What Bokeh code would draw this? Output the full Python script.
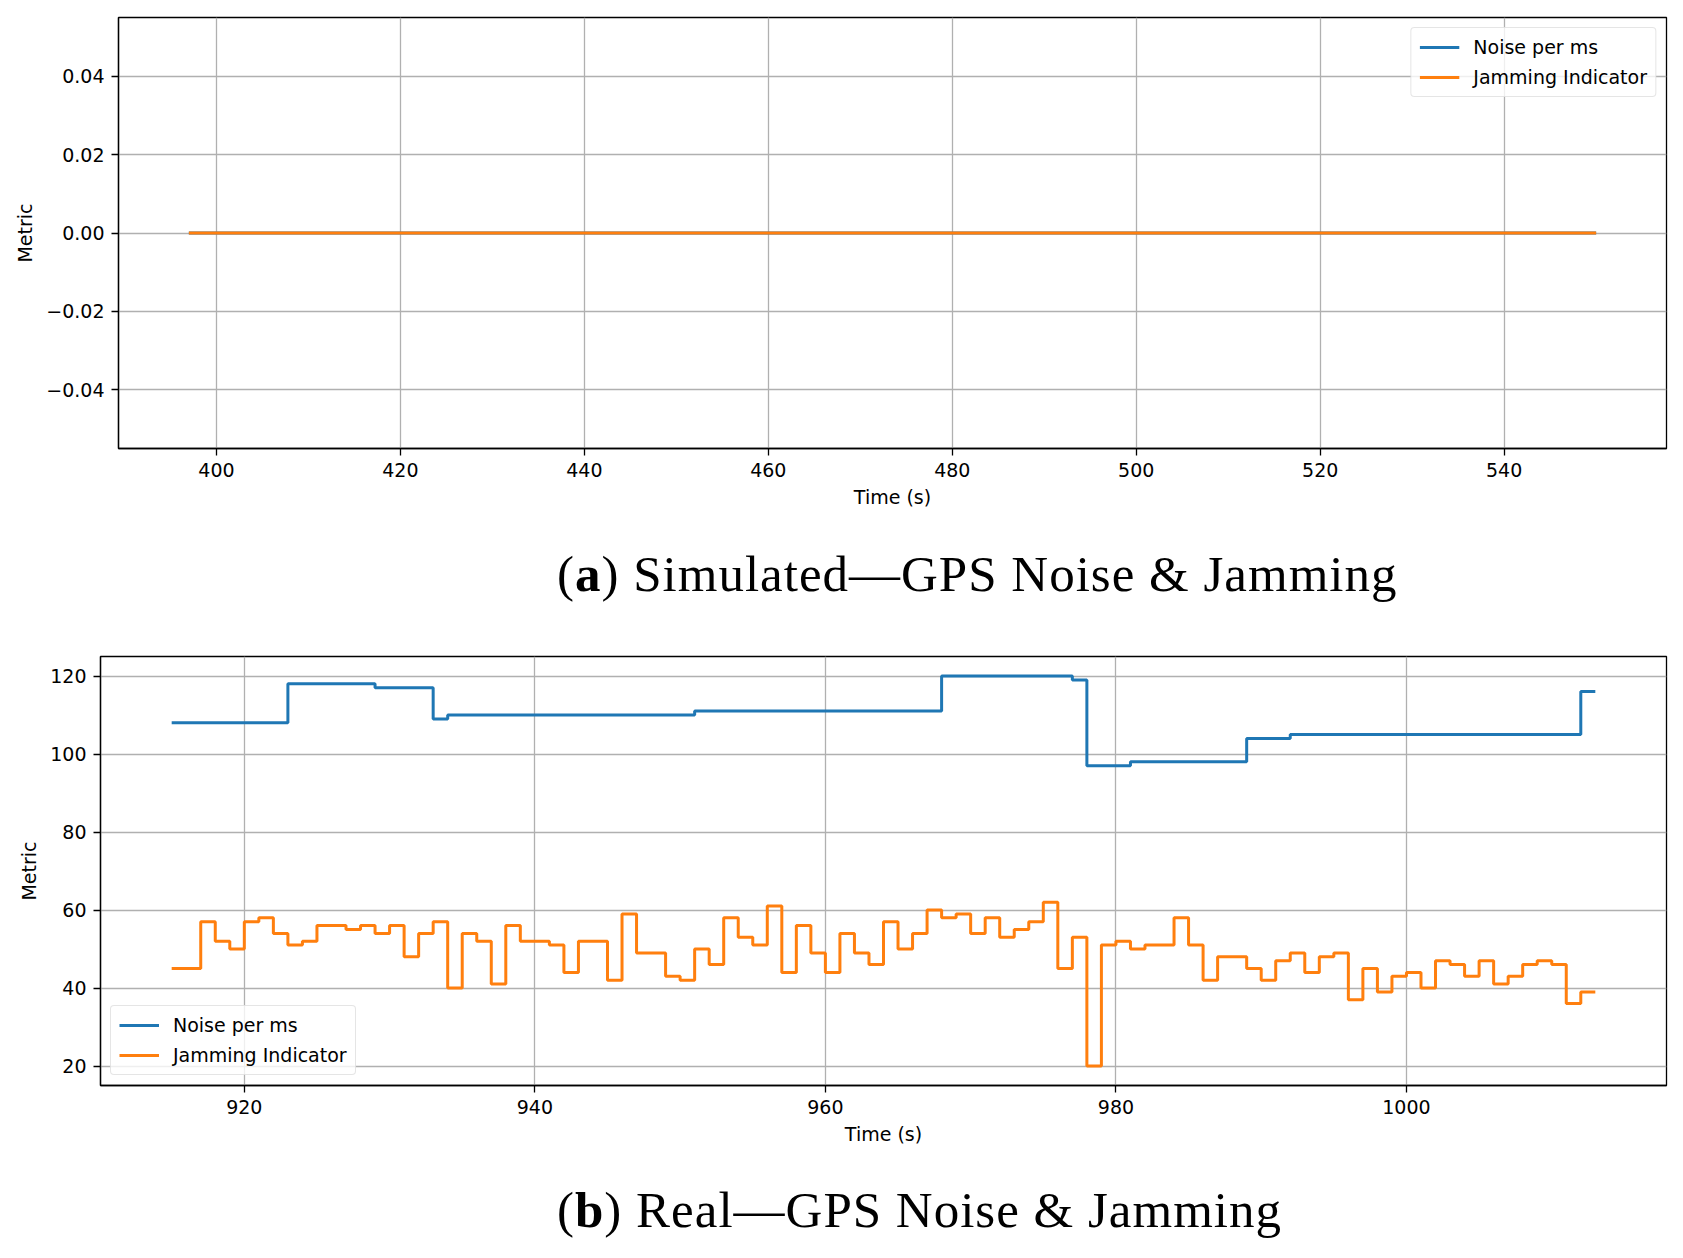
from bokeh.plotting import figure
from bokeh.models import Range1d, FixedTicker, CustomJSTickFormatter, Div
from bokeh.embed import file_html
from bokeh.resources import INLINE

# (a) simulated run: both metrics stay at zero the whole time
sim_t = [397, 550]
sim_noise = [0, 0]
sim_jam = [0, 0]

# (b) real run, jamming indicator read once per second (915 .. 1013)
real_t = [915, 916, 917, 918, 919, 920, 921, 922, 923, 924,
          925, 926, 927, 928, 929, 930, 931, 932, 933, 934,
          935, 936, 937, 938, 939, 940, 941, 942, 943, 944,
          945, 946, 947, 948, 949, 950, 951, 952, 953, 954,
          955, 956, 957, 958, 959, 960, 961, 962, 963, 964,
          965, 966, 967, 968, 969, 970, 971, 972, 973, 974,
          975, 976, 977, 978, 979, 980, 981, 982, 983, 984,
          985, 986, 987, 988, 989, 990, 991, 992, 993, 994,
          995, 996, 997, 998, 999, 1000, 1001, 1002, 1003, 1004,
          1005, 1006, 1007, 1008, 1009, 1010, 1011, 1012, 1013]
real_jam = [45, 45, 57, 52, 50, 57, 58, 54, 51, 52,
            56, 56, 55, 56, 54, 56, 48, 54, 57, 40,
            54, 52, 41, 56, 52, 52, 51, 44, 52, 52,
            42, 59, 49, 49, 43, 42, 50, 46, 58, 53,
            51, 61, 44, 56, 49, 44, 54, 49, 46, 57,
            50, 54, 60, 58, 59, 54, 58, 53, 55, 57,
            62, 45, 53, 20, 51, 52, 50, 51, 51, 58,
            51, 42, 48, 48, 45, 42, 47, 49, 44, 48,
            49, 37, 45, 39, 43, 44, 40, 47, 46, 43,
            47, 41, 43, 46, 47, 46, 36, 39, 39]

# noise per ms only changes a few times -> keep the change points
noise_t = [915, 923, 929, 933, 934, 951, 968, 977, 978, 981, 989, 992, 1012, 1013]
noise_v = [108, 118, 117, 109, 110, 111, 120, 119, 97, 98, 104, 105, 116, 116]

x_ticks_a = [400, 420, 440, 460, 480, 500, 520, 540]
y_ticks_a = [-0.04, -0.02, 0.0, 0.02, 0.04]
x_ticks_b = [920, 940, 960, 980, 1000]
y_ticks_b = [20, 40, 60, 80, 100, 120]

azul = "#1f77b4"
naranja = "#ff7f0e"

cap_a = ("a", "Simulated\u2014GPS Noise &amp; Jamming")
cap_b = ("b", "Real\u2014GPS Noise &amp; Jamming")


def estilo(p):
    p.background_fill_color = "white"
    p.border_fill_color = "white"
    p.outline_line_color = "black"
    p.outline_line_width = 1.3
    p.grid.grid_line_color = "#b0b0b0"
    p.grid.grid_line_width = 1.3
    for ax in p.axis:
        ax.axis_line_color = "black"
        ax.axis_line_width = 1.3
        ax.major_tick_line_color = "black"
        ax.major_tick_line_width = 1.3
        ax.major_tick_out = 7
        ax.major_tick_in = 0
        ax.minor_tick_line_color = None
        ax.major_label_text_font = "DejaVu Sans"
        ax.major_label_text_font_size = "19px"
        ax.major_label_text_color = "black"
        ax.major_label_standoff = 7
        ax.axis_label_text_font = "DejaVu Sans"
        ax.axis_label_text_font_size = "19px"
        ax.axis_label_text_font_style = "normal"
        ax.axis_label_text_color = "black"
    p.xaxis.axis_label_standoff = 6
    p.yaxis.axis_label_standoff = 7
    leg = p.legend[0]
    leg.label_text_font = "DejaVu Sans"
    leg.label_text_font_size = "19px"
    leg.label_text_color = "black"
    leg.border_line_color = "#cccccc"
    leg.border_line_width = 1.3
    leg.background_fill_alpha = 0.8
    leg.glyph_width = 40
    leg.glyph_height = 20
    leg.label_height = 20
    leg.label_standoff = 14
    leg.spacing = 8
    leg.padding = 8
    leg.margin = 10
    if "border_radius" in type(leg).properties():
        leg.border_radius = 4


def caption(letra, texto, top, height):
    html = ('<div style="font-family:\'Liberation Serif\',serif; font-size:51px; '
            'line-height:51px; letter-spacing:1px; color:black; white-space:nowrap; '
            f'padding-top:{top}px; padding-left:557px;">(<b>{letra}</b>) {texto}</div>')
    return Div(text=html, width=1676, height=height, margin=0)


# ---- (a) simulated
p1 = figure(frame_width=1548, frame_height=431, min_border_left=118, min_border_right=10,
            min_border_top=17, min_border_bottom=72,
            x_range=Range1d(389.35, 557.65), y_range=Range1d(-0.055, 0.055),
            x_axis_label="Time (s)", y_axis_label="Metric",
            output_backend="svg", toolbar_location=None, margin=0)
p1.line(sim_t, sim_noise, line_color=azul, line_width=3, legend_label="Noise per ms")
p1.line(sim_t, sim_jam, line_color=naranja, line_width=3, legend_label="Jamming Indicator")
p1.xaxis.ticker = FixedTicker(ticks=x_ticks_a)
p1.yaxis.ticker = FixedTicker(ticks=y_ticks_a)
p1.yaxis.formatter = CustomJSTickFormatter(code="return tick.toFixed(2).replace('-', '\\u2212');")
estilo(p1)
p1.legend.location = "top_right"

# ---- (b) real
p2 = figure(frame_width=1566, frame_height=429, min_border_left=100, min_border_right=10,
            min_border_top=21, min_border_bottom=65,
            x_range=Range1d(910.1, 1017.9), y_range=Range1d(15, 125),
            x_axis_label="Time (s)", y_axis_label="Metric",
            output_backend="svg", toolbar_location=None, margin=0)
p2.step(noise_t, noise_v, mode="after", line_color=azul, line_width=3, legend_label="Noise per ms")
p2.step(real_t, real_jam, mode="after", line_color=naranja, line_width=3, legend_label="Jamming Indicator")
p2.xaxis.ticker = FixedTicker(ticks=x_ticks_b)
p2.yaxis.ticker = FixedTicker(ticks=y_ticks_b)
estilo(p2)
p2.legend.location = "bottom_left"

# separate roots so the two frames are not forced onto the same left edge
partes = [p1, caption(*cap_a, 29, 115), p2, caption(*cap_b, 35, 100)]

open("out.html", "w").write(file_html(partes, INLINE))
